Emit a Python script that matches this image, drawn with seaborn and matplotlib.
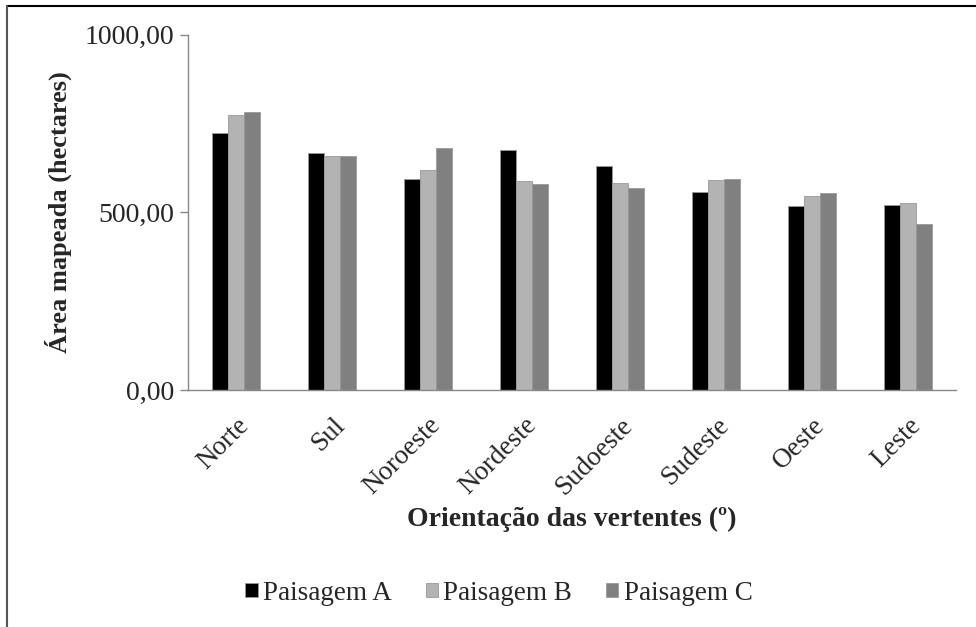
import pandas as pd
import matplotlib.pyplot as plt
import seaborn as sns
from matplotlib.lines import Line2D

# dados
categorias = ["Norte", "Sul", "Noroeste", "Nordeste", "Sudoeste", "Sudeste", "Oeste", "Leste"]
paisagem_a = [724, 666, 594, 676, 629, 558, 518, 521]
paisagem_b = [773, 658, 619, 587, 582, 590, 547, 525]
paisagem_c = [781, 658, 680, 579, 568, 594, 553, 467]
series = ["Paisagem A", "Paisagem B", "Paisagem C"]
cores = ["#000000", "#b3b3b3", "#808080"]
yticks = [0, 500, 1000]
ytick_labels = ["0,00", "500,00", "1000,00"]

df = pd.DataFrame({
    "orientacao": categorias * 3,
    "area": paisagem_a + paisagem_b + paisagem_c,
    "paisagem": [s for s in series for _ in categorias],
})

sns.set_style("white")
plt.rcParams["font.family"] = ["Liberation Serif", "DejaVu Serif"]

W, H = 976, 627
fig = plt.figure(figsize=(W / 100, H / 100), dpi=100)
ax = fig.add_axes([188 / W, 1 - 390 / H, 768 / W, 355.5 / H])

sns.barplot(data=df, x="orientacao", y="area", hue="paisagem", order=categorias,
            hue_order=series, palette=cores, width=0.5, ax=ax,
            edgecolor="#999999", linewidth=0.6, saturation=1)

ax.set_ylim(0, 1000)
ax.set_xlim(-0.5, len(categorias) - 0.5)
ax.set_yticks(yticks)
ax.set_yticklabels(ytick_labels, fontsize=20)
ax.tick_params(axis="y", left=True, length=6, color="#888888", width=1, pad=4)
ax.tick_params(axis="x", bottom=False, pad=13)
plt.setp(ax.get_xticklabels(), rotation=45, ha="right", rotation_mode="anchor", fontsize=19.5)

for side in ["top", "right"]:
    ax.spines[side].set_visible(False)
for side in ["left", "bottom"]:
    ax.spines[side].set_color("#888888")
    ax.spines[side].set_linewidth(1)

ax.set_ylabel("Área mapeada (hectares)", fontsize=19, fontweight="bold", va="center")
ax.yaxis.set_label_coords((58 - 188) / 768, 0.5)
ax.set_xlabel("Orientação das vertentes (º)", fontsize=20, fontweight="bold", va="center")
ax.xaxis.set_label_coords((572 - 188) / 768, (390 - 519) / 355.5)

ax.legend(loc="center", bbox_to_anchor=((499 - 188) / 768, (390 - 593) / 355.5), ncol=3,
          frameon=False, fontsize=19.5, handlelength=0.45, handleheight=0.45,
          handletextpad=0.2, columnspacing=1.25)

# moldura da área do gráfico (linhas superior e esquerda)
fig.lines.append(Line2D([6.5 / W, 1], [1 - 5.5 / H, 1 - 5.5 / H], transform=fig.transFigure,
                        color="#000000", linewidth=1.5))
fig.lines.append(Line2D([6.5 / W, 6.5 / W], [0, 1 - 5.5 / H], transform=fig.transFigure,
                        color="#555555", linewidth=1.5))

plt.savefig("out.png", dpi=100)
plt.close()
